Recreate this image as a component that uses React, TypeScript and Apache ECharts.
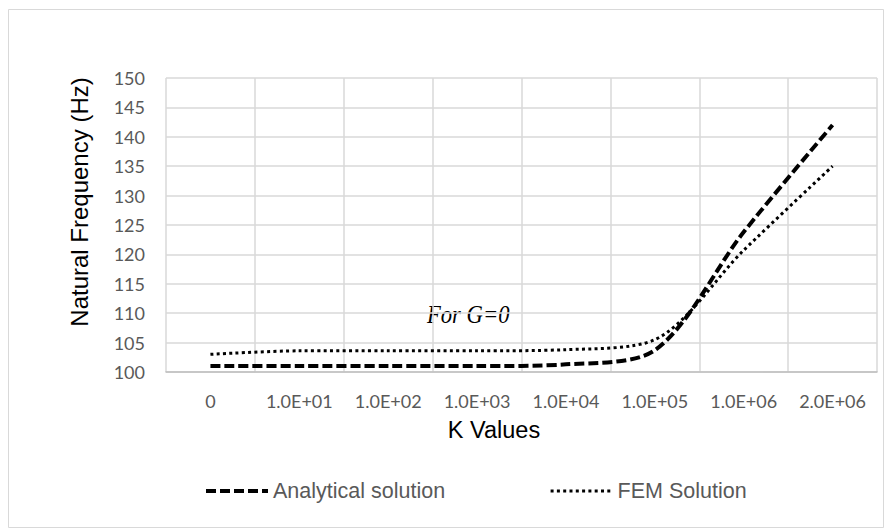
import React, { useEffect, useRef } from "react";
import * as echarts from "echarts";

const categories = ["0", "1.0E+01", "1.0E+02", "1.0E+03", "1.0E+04", "1.0E+05", "1.0E+06", "2.0E+06"];
const analytical = [101, 101, 101, 101, 101.3, 103.7, 123.8, 142];
const fem = [103, 103.6, 103.6, 103.6, 103.8, 105.5, 120.7, 135];
const yMin = 100;
const yMax = 150;
const yStep = 5;
const seriesNames = ["Analytical solution", "FEM Solution"];
const xTitle = "K Values";
const yTitle = "Natural Frequency (Hz)";
const note = "For G=0";

export default function App() {
  const ref = useRef<HTMLDivElement>(null);
  useEffect(() => {
    if (!ref.current) return;
    const chart = echarts.init(ref.current, undefined, { renderer: "svg" });
    chart.setOption({
      animation: false,
      backgroundColor: "#ffffff",
      grid: { left: 166, right: 9, top: 78, bottom: 159, containLabel: false },
      xAxis: {
        type: "category",
        data: categories,
        boundaryGap: true,
        axisLine: { show: true, lineStyle: { color: "#bfbfbf", width: 1.5 } },
        axisTick: { show: false },
        axisLabel: { color: "#595959", fontFamily: "Lato", fontSize: 18, margin: 20, interval: 0 },
        splitLine: { show: true, interval: 0, lineStyle: { color: "#d9d9d9", width: 1.5 } },
      },
      yAxis: {
        type: "value",
        min: yMin,
        max: yMax,
        interval: yStep,
        axisLine: { show: false },
        axisTick: { show: false },
        axisLabel: { color: "#595959", fontFamily: "Lato", fontSize: 18, margin: 21 },
        splitLine: { show: true, lineStyle: { color: "#d9d9d9", width: 1.5 } },
      },
      legend: {
        left: 199,
        top: 475,
        itemWidth: 62,
        itemHeight: 20,
        itemGap: 104,
        textStyle: { color: "#595959", fontFamily: "Liberation Sans", fontSize: 21.5 },
        itemStyle: { color: "rgba(0,0,0,0)", borderColor: "rgba(0,0,0,0)", borderWidth: 0, opacity: 0 },
        data: [
          { name: seriesNames[0], lineStyle: { width: 4, type: [10, 4], color: "#000000" } },
          { name: seriesNames[1], lineStyle: { width: 3, type: [3, 3.3], color: "#000000" } },
        ],
      },
      series: [
        {
          name: seriesNames[0],
          type: "line",
          data: analytical,
          smooth: 0.3,
          symbol: "none",
          showSymbol: false,
          lineStyle: { color: "#000000", width: 4, type: [10, 4] },
          itemStyle: { color: "#000000" },
        },
        {
          name: seriesNames[1],
          type: "line",
          data: fem,
          smooth: 0.3,
          symbol: "none",
          showSymbol: false,
          lineStyle: { color: "#000000", width: 3, type: [3, 3.3] },
          itemStyle: { color: "#000000" },
        },
      ],
      graphic: [
        {
          type: "rect",
          shape: { x: 8.5, y: 9.5, width: 875, height: 518 },
          style: { fill: "none", stroke: "#d9d9d9", lineWidth: 1 },
          silent: true,
          z: -1,
        },
        {
          type: "text",
          x: 79,
          y: 202,
          rotation: Math.PI / 2,
          style: {
            text: yTitle,
            fill: "#000000",
            font: "24px 'Liberation Sans'",
            align: "center",
            verticalAlign: "middle",
          },
        },
        {
          type: "text",
          x: 494,
          y: 430,
          style: {
            text: xTitle,
            fill: "#000000",
            font: "23.5px 'Liberation Sans'",
            align: "center",
            verticalAlign: "middle",
          },
        },
        {
          type: "text",
          x: 427,
          y: 314,
          scaleX: 0.87,
          style: {
            text: note,
            fill: "#000000",
            font: "italic 26px 'Liberation Serif'",
            align: "left",
            verticalAlign: "middle",
          },
        },
      ],
    });
    return () => chart.dispose();
  }, []);
  return <div ref={ref} style={{ position: "absolute", left: 0, top: 0, width: 886, height: 531 }} />;
}
